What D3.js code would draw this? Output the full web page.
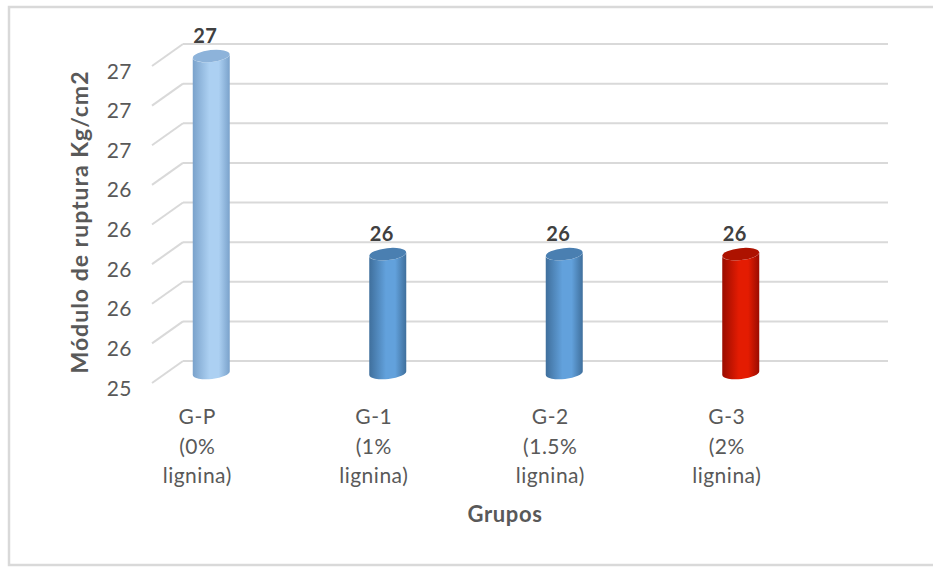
<!DOCTYPE html>
<html>
<head>
<meta charset="utf-8">
<script src="https://cdn.jsdelivr.net/npm/d3@7"></script>
<style>
  html, body { margin: 0; padding: 0; background: #fff; }
  svg { display: block; }
  text { font-family: Lato, "Open Sans", sans-serif; }
</style>
</head>
<body>
<svg id="chart" width="933" height="567"></svg>
<script>
// Rupture modulus by group
const groups = ["G-P", "G-1", "G-2", "G-3"];
const groupLines = [["G-P", "(0%", "lignina)"], ["G-1", "(1%", "lignina)"], ["G-2", "(1.5%", "lignina)"], ["G-3", "(2%", "lignina)"]];
const values = [27.0, 26.0, 26.0, 26.0];
const tickValues = [25.4, 25.6, 25.8, 26.0, 26.2, 26.4, 26.6, 26.8, 27.0];
const yTitle = "Módulo de ruptura Kg/cm2";
const xTitle = "Grupos";

// Cylinder shading per bar: [edge, highlight, top]
const palettes = [
  ["#7aa2cb", "#acd0f2", "#8db3da"],
  ["#3f6f9c", "#62a1dc", "#4a7fb1"],
  ["#3f6f9c", "#62a1dc", "#4a7fb1"],
  ["#9a0c00", "#e41c02", "#ad1200"]
];

const svg = d3.select("#chart");

// Chart frame
svg.append("rect")
  .attr("x", 9).attr("y", 7).attr("width", 930).attr("height", 558)
  .attr("fill", "#fff").attr("stroke", "#d9d9d9").attr("stroke-width", 2.5);

// Back wall scale and 3D depth offsets
const y = d3.scaleLinear().domain([25.4, 27.0]).range([361, 44]);
const depthX = 31, depthY = 22;
const backLeft = 183, backRight = 888;

const x = d3.scaleBand().domain(groups).range([109, 815]);
const barShift = 14, barDrop = 12, barR = 18.5, ellR = 6;

// Gridlines: diagonal side wall segment plus back wall line
const grid = svg.append("g");
tickValues.forEach(t => {
  const yy = y(t);
  grid.append("line")
    .attr("x1", backLeft - depthX).attr("y1", yy + depthY)
    .attr("x2", backLeft).attr("y2", yy)
    .attr("stroke", "#d9d9d9").attr("stroke-width", 2);
  grid.append("line")
    .attr("x1", backLeft).attr("y1", yy)
    .attr("x2", backRight).attr("y2", yy)
    .attr("stroke", "#d9d9d9").attr("stroke-width", 2);
});

// Y tick labels (rounded to whole numbers)
svg.append("g").selectAll("text").data(tickValues).join("text")
  .attr("x", 132).attr("y", d => y(d) + depthY + 4)
  .attr("text-anchor", "end").attr("dominant-baseline", "central")
  .attr("fill", "#595959").attr("font-size", 21).attr("letter-spacing", 0.5)
  .text(d => d3.format(".0f")(d));

// Gradients for cylinder bodies
const defs = svg.append("defs");
palettes.forEach((p, i) => {
  const g = defs.append("linearGradient").attr("id", "cyl" + i)
    .attr("x1", "0%").attr("x2", "100%").attr("y1", "0%").attr("y2", "0%");
  g.append("stop").attr("offset", "0%").attr("stop-color", p[0]);
  g.append("stop").attr("offset", "45%").attr("stop-color", p[1]);
  g.append("stop").attr("offset", "70%").attr("stop-color", p[1]);
  g.append("stop").attr("offset", "100%").attr("stop-color", p[0]);
});

// Cylinders
const bars = svg.append("g");
groups.forEach((g, i) => {
  const cx = x(g) + x.bandwidth() / 2 + barShift;
  const yTop = y(values[i]) + barDrop;
  const yBot = y(25.4) + barDrop;
  const tilt = 2; // slight tilt of the elliptical caps
  const body = `M${cx - barR},${yTop + tilt}`
    + ` L${cx - barR},${yBot + tilt}`
    + ` A${barR},${ellR} -6 0 0 ${cx + barR},${yBot - tilt}`
    + ` L${cx + barR},${yTop - tilt}`
    + ` A${barR},${ellR} -6 0 1 ${cx - barR},${yTop + tilt} Z`;
  bars.append("path").attr("d", body).attr("fill", `url(#cyl${i})`);
  bars.append("ellipse")
    .attr("cx", 0).attr("cy", 0).attr("rx", barR).attr("ry", ellR)
    .attr("transform", `translate(${cx},${yTop}) rotate(-6)`)
    .attr("fill", palettes[i][2]);

  // Value label
  svg.append("text")
    .attr("x", cx - 6).attr("y", yTop - 21)
    .attr("text-anchor", "middle").attr("dominant-baseline", "central")
    .attr("font-size", 20).attr("font-weight", "bold").attr("fill", "#404040")
    .attr("letter-spacing", 0.5)
    .text(d3.format(".0f")(values[i]));
});

// Category labels
groupLines.forEach((lines, i) => {
  const t = svg.append("text")
    .attr("x", x(groups[i]) + x.bandwidth() / 2)
    .attr("text-anchor", "middle").attr("fill", "#595959")
    .attr("font-size", 21).attr("letter-spacing", 0.5);
  lines.forEach((ln, k) => {
    t.append("tspan").attr("x", x(groups[i]) + x.bandwidth() / 2)
      .attr("y", 424 + k * 29.5).text(ln);
  });
});

// Axis titles
svg.append("text")
  .attr("x", 505).attr("y", 522).attr("text-anchor", "middle")
  .attr("font-size", 22).attr("font-weight", "bold").attr("fill", "#595959")
  .attr("letter-spacing", 0.6)
  .text(xTitle);

svg.append("text")
  .attr("transform", "translate(88,222) rotate(-90)")
  .attr("text-anchor", "middle")
  .attr("font-size", 23).attr("font-weight", "bold").attr("fill", "#595959")
  .attr("letter-spacing", 1)
  .text(yTitle);
</script>
</body>
</html>
